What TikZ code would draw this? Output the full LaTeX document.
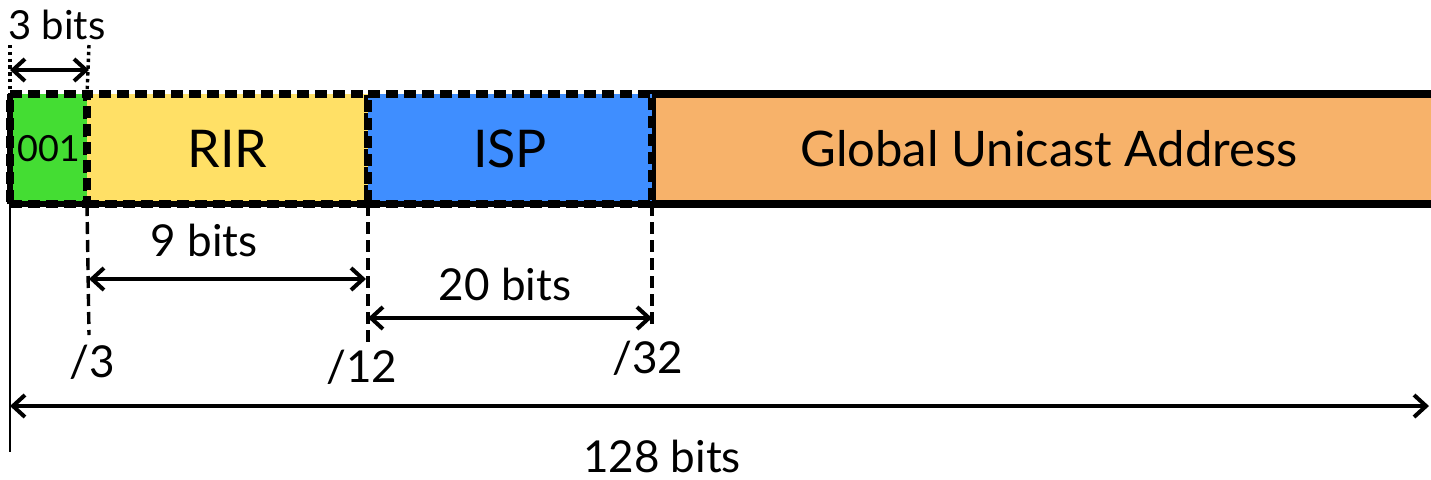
\documentclass[tikz,border=0pt]{standalone}
\usepackage{fontspec}
\setmainfont{Lato}
\usetikzlibrary{arrows.meta}
\begin{document}
\begin{tikzpicture}[x=0.5pt,y=-0.5pt,
  seg/.style={draw=black, line width=3.6pt, dash pattern=on 6pt off 3pt, inner sep=0pt, outer sep=0pt, minimum height=55pt, anchor=north west, font=\fontsize{26}{28}\selectfont},
  solidseg/.style={seg, solid},
  dim/.style={line width=2pt, {Straight Barb[length=6pt,width=11pt]}-{Straight Barb[length=6pt,width=11pt]}},
  guide/.style={line width=1.7pt, dash pattern=on 6pt off 3pt},
  dots/.style={line width=1.7pt, dash pattern=on 1.7pt off 1.7pt},
  lbl/.style={font=\fontsize{22}{24}\selectfont, inner sep=0pt},
  pfx/.style={font=\fontsize{22}{24}\selectfont, inner sep=0pt}
]
\useasboundingbox (0,0) rectangle (1431,479);
\definecolor{cgreen}{HTML}{44DD33}
\definecolor{cyellow}{HTML}{FFE066}
\definecolor{cblue}{HTML}{3F8EFF}
\definecolor{corange}{HTML}{F7B26A}
% segments
\node[solidseg, fill=corange, minimum width=397pt, font=\fontsize{24.5}{26}\selectfont] (ga) at (652,94) {Global Unicast Address};
\node[seg, fill=cgreen, minimum width=38.5pt, font=\fontsize{18}{20}\selectfont] (pre) at (10,94) {001};
\node[seg, fill=cyellow, minimum width=140.5pt] (rir) at (87,94) {RIR};
\node[seg, fill=cblue, minimum width=142pt] (isp) at (368,94) {ISP};
\draw[line width=2.6pt] (pre.south west) -- (isp.south east);
\draw[line width=2.6pt] (pre.south west) -- (pre.north west);
% coordinates
\coordinate (l0) at (10,452);
\coordinate (t0) at (10,45);
\coordinate (t3) at (89,45);
\coordinate (g3) at (89,335);
\coordinate (g12) at (368,342);
\coordinate (g32) at (652,326);
% guides
\draw[dots] (t0) -- (pre.north west);
\draw[dots] (t3) -- (rir.north west);
\draw[line width=1.1pt] (pre.south west) -- (l0);
\draw[guide] (rir.south west) -- (g3);
\draw[guide] (isp.south west) -- (g12);
\draw[guide] (isp.south east) -- (g32);
% dimension arrows
\draw[dim] (10,70) coordinate (a3l) -- (89,70) coordinate (a3r);
\node[lbl, font=\fontsize{20}{22}\selectfont] (l3) at (57,25) {3 bits};
\draw[dim] (89,279) coordinate (a9l) -- (366,279) coordinate (a9r);
\node[lbl] (l9) at (204,240) {9 bits};
\draw[dim] (368,318) coordinate (a20l) -- (652,318) coordinate (a20r);
\node[lbl] (l20) at (505,284) {20 bits};
\draw[dim] (10,406) coordinate (a128l) -- (1429,406) coordinate (a128r);
\node[lbl] (l128) at (662,456) {128 bits};
% markers
\node[pfx] (m3) at (92,362) {/3};
\node[pfx] (m12) at (362,367) {/12};
\node[pfx] (m32) at (648,358) {/32};
\end{tikzpicture}
\end{document}
